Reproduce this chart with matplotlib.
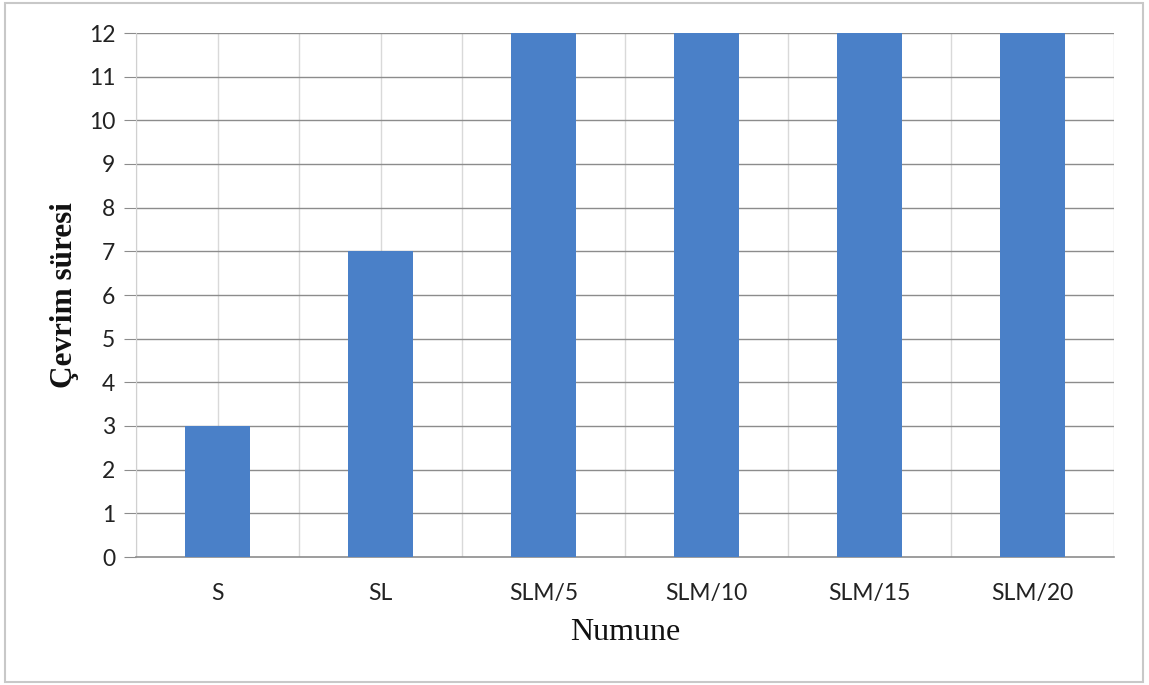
import matplotlib
matplotlib.use("Agg")
import matplotlib.pyplot as plt
from matplotlib.patches import Rectangle
import numpy as np

categories = ["S", "SL", "SLM/5", "SLM/10", "SLM/15", "SLM/20"]
values = [3, 7, 12, 12, 12, 12]
y_ticks = list(range(0, 13))

W, H = 1149, 685
fig = plt.figure(figsize=(W / 100, H / 100), dpi=100)
fig.patch.set_facecolor("white")

# outer chart frame
fig.patches.append(Rectangle((5 / W, 3 / H), (1143 - 5) / W, (682 - 3) / H,
                             transform=fig.transFigure, fill=False,
                             edgecolor="#c8c8c8", linewidth=1.5))

left, right, top, bottom = 136, 1114, 33, 557
ax = fig.add_axes([left / W, 1 - bottom / H, (right - left) / W, (bottom - top) / H])

x = np.arange(len(categories))
ax.set_xlim(-0.5, len(categories) - 0.5)
ax.set_ylim(0, 12)

# vertical grid at category centres and boundaries
for xv in np.arange(-0.5, len(categories), 0.5):
    ax.axvline(xv, color="#d9d9d9", linewidth=1.0, zorder=0)
# horizontal grid
for yv in y_ticks[1:]:
    ax.axhline(yv, color="#8c8c8c", linewidth=1.0, zorder=1)

ax.bar(x, values, width=0.4, color="#4a80c8", zorder=3)

ax.set_yticks(y_ticks)
ax.set_yticklabels([str(v) for v in y_ticks], fontsize=16.5, family="Lato", color="#222222")
ax.set_xticks(x)
ax.set_xticklabels(categories, fontsize=16.5, family="Lato", color="#222222")
ax.tick_params(axis="y", length=9, color="#8c8c8c", pad=6)
ax.tick_params(axis="x", length=0, pad=19)

for s in ["top", "right"]:
    ax.spines[s].set_visible(False)
ax.spines["left"].set_color("#d0d0d0")
ax.spines["bottom"].set_color("#8c8c8c")
ax.spines["bottom"].set_linewidth(1.2)

ax.set_ylabel("Çevrim süresi", family="Liberation Serif", fontweight="bold",
              fontsize=22.5, labelpad=7, color="#111111")
ax.set_xlabel("Numune", family="Liberation Serif", fontsize=23, labelpad=10,
              color="#111111")

fig.savefig("out.png", dpi=100, facecolor="white")
